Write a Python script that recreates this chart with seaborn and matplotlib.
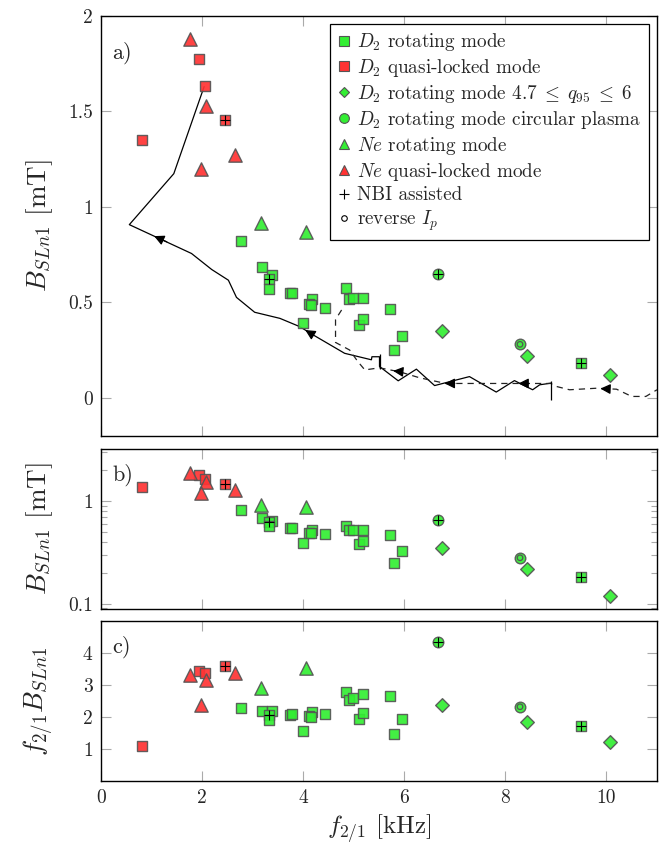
import numpy as np
import pandas as pd
import matplotlib
matplotlib.use("Agg")
import matplotlib.pyplot as plt
import matplotlib.ticker as mticker
from matplotlib.lines import Line2D
import seaborn as sns

# ---------------- data ----------------
d2_rot_f = [2.76, 3.19, 3.39, 3.32, 3.33, 3.73, 3.78, 4.17, 4.12, 4.15, 4.43, 4.00,
            4.84, 4.90, 4.99, 5.18, 5.72, 5.10, 5.19, 5.95, 5.80, 9.50]
d2_rot_B = [0.822, 0.683, 0.641, 0.622, 0.571, 0.55, 0.55, 0.516, 0.493, 0.484, 0.472, 0.393,
            0.573, 0.516, 0.522, 0.522, 0.463, 0.383, 0.411, 0.324, 0.251, 0.181]
d2_lock_f = [1.94, 2.06, 2.46, 0.82]
d2_lock_B = [1.775, 1.635, 1.456, 1.353]
d2_q95_f = [6.74, 8.43, 10.07]
d2_q95_B = [0.352, 0.219, 0.12]
d2_circ_f = [6.67, 8.29]
d2_circ_B = [0.651, 0.28]
ne_rot_f = [3.16, 4.06]
ne_rot_B = [0.916, 0.869]
ne_lock_f = [1.76, 2.07, 2.65, 1.98]
ne_lock_B = [1.88, 1.53, 1.273, 1.20]

nbi_f = [3.32, 9.50, 2.46, 6.67]
nbi_B = [0.622, 0.181, 1.456, 0.651]
rev_f = [8.29]
rev_B = [0.28]

# trajectory lines (panel a)
solid_f = [2.04, 1.44, 0.56, 1.79, 2.19, 2.52, 2.68, 3.04, 3.54, 3.93, 4.20, 4.82, 5.35,
           5.36, 5.51, 5.51, 5.88, 6.24, 6.60, 7.29, 7.82, 8.18, 8.54, 8.68, 8.91]
solid_B = [1.63, 1.174, 0.907, 0.756, 0.672, 0.616, 0.526, 0.448, 0.416, 0.373, 0.329, 0.233, 0.199,
           0.215, 0.215, 0.164, 0.089, 0.15, 0.064, 0.111, 0.03, 0.09, 0.042, 0.068, 0.077]
dash_f = [4.76, 4.64, 4.64, 4.92, 5.08, 5.22, 5.51, 5.91, 6.30, 6.82, 7.9, 8.9, 9.0, 9.27,
          9.8, 10.2, 10.5, 10.78, 11.0]
dash_B = [0.46, 0.41, 0.29, 0.25, 0.19, 0.146, 0.157, 0.136, 0.105, 0.075, 0.075, 0.075, 0.06, 0.042,
          0.05, 0.045, 0.007, 0.007, 0.042]
vtick_f = [5.51, 8.91]
vtick_lo = [0.15, -0.01]
vtick_hi = [0.23, 0.09]
arrow_tip = [(1.05, 0.847), (4.04, 0.355), (5.78, 0.141), (6.80, 0.075), (8.26, 0.075), (9.88, 0.048)]
arrow_tail = [(1.30, 0.817), (4.20, 0.329), (5.93, 0.137), (7.00, 0.075), (8.45, 0.075), (10.05, 0.046)]

groups = ["d2_rot", "d2_lock", "d2_q95", "d2_circ", "ne_rot", "ne_lock"]
labels = [r"$D_2$ rotating mode", r"$D_2$ quasi-locked mode",
          r"$D_2$ rotating mode $4.7\;\leq\;q_{95}\;\leq\;6$",
          r"$D_2$ rotating mode circular plasma",
          r"$Ne$ rotating mode", r"$Ne$ quasi-locked mode"]
fs = [d2_rot_f, d2_lock_f, d2_q95_f, d2_circ_f, ne_rot_f, ne_lock_f]
Bs = [d2_rot_B, d2_lock_B, d2_q95_B, d2_circ_B, ne_rot_B, ne_lock_B]

GREEN = "#33ee33"
RED = "#ff3333"
EDGE = "#555555"
palette = {"d2_rot": GREEN, "d2_lock": RED, "d2_q95": GREEN, "d2_circ": GREEN,
           "ne_rot": GREEN, "ne_lock": RED}
markers = {"d2_rot": "s", "d2_lock": "s", "d2_q95": "D", "d2_circ": "o",
           "ne_rot": "^", "ne_lock": "^"}
sizes = {"d2_rot": 60, "d2_lock": 60, "d2_q95": 48, "d2_circ": 58,
         "ne_rot": 92, "ne_lock": 92}

rows = []
for g, fl, bl in zip(groups, fs, Bs):
    for f, b in zip(fl, bl):
        rows.append((g, f, b))
df = pd.DataFrame(rows, columns=["group", "f", "B"])
df["fB"] = df["f"] * df["B"]
nbi = pd.DataFrame({"f": nbi_f, "B": nbi_B})
nbi["fB"] = nbi["f"] * nbi["B"]
rev = pd.DataFrame({"f": rev_f, "B": rev_B})
rev["fB"] = rev["f"] * rev["B"]

# ---------------- style ----------------
sns.set_style("ticks")
plt.rcParams["font.family"] = "serif"
plt.rcParams["font.serif"] = ["cmr10", "DejaVu Serif"]
plt.rcParams["mathtext.fontset"] = "cm"
plt.rcParams["axes.unicode_minus"] = False
plt.rcParams["axes.formatter.use_mathtext"] = True

fig = plt.figure(figsize=(6.62, 8.56), dpi=100)
L, W = 0.1526, 0.8398
ax_a = fig.add_axes([L, 0.4907, W, 0.4906])
ax_b = fig.add_axes([L, 0.2886, W, 0.1869])
ax_c = fig.add_axes([L, 0.0876, W, 0.1869])


def scatter(ax, ycol):
    for g in groups:
        sub = df[df["group"] == g]
        sns.scatterplot(data=sub, x="f", y=ycol, ax=ax, marker=markers[g],
                        color=palette[g], s=sizes[g], edgecolor=EDGE, linewidth=1.0,
                        alpha=0.92, legend=False, zorder=3)
    sns.scatterplot(data=nbi, x="f", y=ycol, ax=ax, marker="+", color="black",
                    s=60, linewidth=0.8, legend=False, zorder=4)
    sns.scatterplot(data=rev, x="f", y=ycol, ax=ax, marker="o", facecolor="none",
                    edgecolor=EDGE, s=16, linewidth=0.9, legend=False, zorder=4)


scatter(ax_a, "B")
scatter(ax_b, "B")
scatter(ax_c, "fB")

# trajectory lines
ax_a.plot(solid_f, solid_B, color="black", lw=0.9, zorder=2)
ax_a.plot(dash_f, dash_B, color="#222222", lw=0.9, ls=(0, (5, 4)), zorder=2)
ax_a.vlines(vtick_f, vtick_lo, vtick_hi, color="black", lw=0.9, zorder=2)
for tip, tail in zip(arrow_tip, arrow_tail):
    ax_a.annotate("", xy=tip, xytext=tail,
                  arrowprops=dict(arrowstyle="-|>,head_length=0.6,head_width=0.3",
                                  color="black", lw=0.9, shrinkA=0, shrinkB=0))

fmt = mticker.FuncFormatter(lambda v, p: f"{v:g}")

for ax in (ax_a, ax_b, ax_c):
    ax.set_xlim(0, 11)
    ax.set_xticks([0, 2, 4, 6, 8, 10])
    ax.tick_params(which="major", direction="in", color="#aaaaaa", length=7, width=0.8,
                   top=True, right=True, labelsize=14, pad=6)
    ax.tick_params(which="minor", direction="in", color="#aaaaaa", length=4, width=0.8,
                   top=True, right=True)
    for sp in ax.spines.values():
        sp.set_color("black")
        sp.set_linewidth(1.0)
    ax.set_xlabel("")
    ax.set_ylabel("")
    ax.yaxis.set_label_coords(-0.083, 0.5)

ax_a.set_ylim(-0.2, 2.0)
ax_a.set_yticks([0, 0.5, 1, 1.5, 2])
ax_a.yaxis.set_major_formatter(fmt)
ax_a.tick_params(labelbottom=False)
ax_a.set_ylabel(r"$B_{SLn1}$ [mT]", fontsize=19.5)

ax_b.set_yscale("log")
ax_b.set_ylim(0.089, 3.2)
ax_b.set_yticks([0.1, 1])
ax_b.yaxis.set_major_formatter(fmt)
ax_b.yaxis.set_minor_locator(mticker.LogLocator(base=10, subs=np.arange(2, 10)))
ax_b.yaxis.set_minor_formatter(mticker.NullFormatter())
ax_b.tick_params(labelbottom=False)
ax_b.set_ylabel(r"$B_{SLn1}$ [mT]", fontsize=19.5)

ax_c.set_ylim(0, 5)
ax_c.set_yticks([1, 2, 3, 4])
ax_c.yaxis.set_major_formatter(fmt)
ax_c.xaxis.set_major_formatter(fmt)
ax_c.set_ylabel(r"$f_{2/1}B_{SLn1}$", fontsize=19.5)
ax_c.set_xlabel(r"$f_{2/1}$ [kHz]", fontsize=18)

for ax, t, y in zip((ax_a, ax_b, ax_c), ("a)", "b)", "c)"), (0.94, 0.91, 0.91)):
    ax.text(0.02, y, t, transform=ax.transAxes, ha="left", va="top", fontsize=16)

# legend
handles = []
for g, lab in zip(groups, labels):
    handles.append(Line2D([], [], ls="none", marker=markers[g], markersize=7 if markers[g] != "D" else 5.5,
                          markerfacecolor=palette[g], markeredgecolor=EDGE, markeredgewidth=0.8,
                          label=lab))
handles.append(Line2D([], [], ls="none", marker="+", markersize=7, color="black",
                      markeredgewidth=0.8, label="NBI assisted"))
handles.append(Line2D([], [], ls="none", marker="o", markersize=4, markerfacecolor="none",
                      markeredgecolor="black", markeredgewidth=0.8, label=r"reverse $I_p$"))
leg = ax_a.legend(handles=handles, loc="upper right", fontsize=13.8, frameon=True,
                  fancybox=False, edgecolor="black", framealpha=1, handlelength=0.7,
                  handletextpad=0.35, labelspacing=0.2, borderpad=0.4, borderaxespad=0.4)
leg.get_frame().set_linewidth(0.9)

fig.savefig("out.png", dpi=100)
